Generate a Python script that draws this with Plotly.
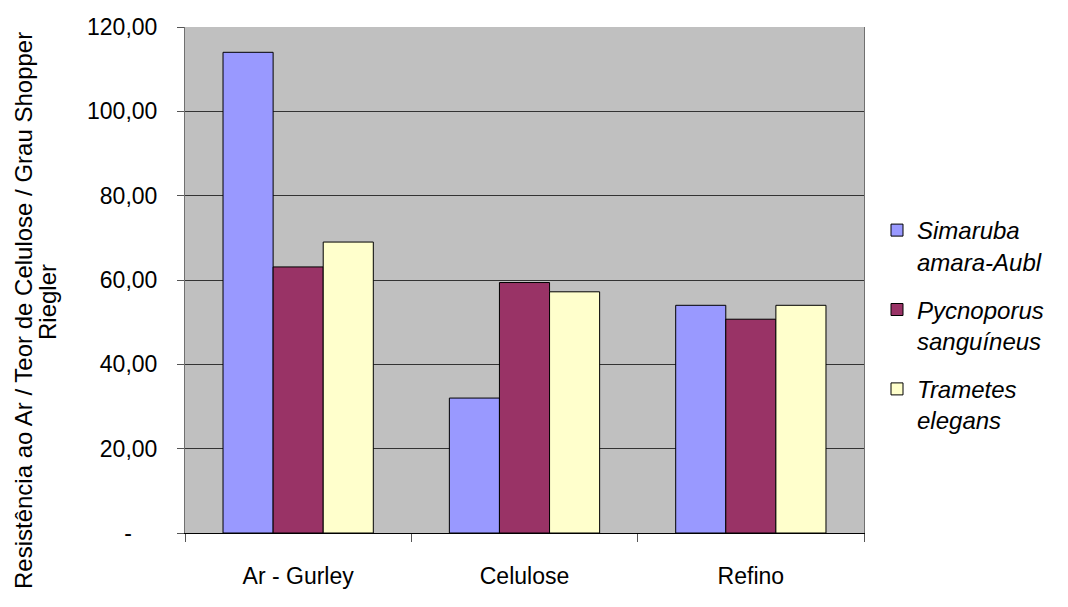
import plotly.graph_objects as go

# Data
categories = ["Ar - Gurley", "Celulose", "Refino"]
simaruba = [114.0, 32.0, 54.0]
pycnoporus = [63.1, 59.4, 50.7]
trametes = [69.0, 57.2, 54.0]

series_names = ["Simaruba<br>amara-Aubl", "Pycnoporus<br>sanguíneus", "Trametes<br>elegans"]
series_values = [simaruba, pycnoporus, trametes]
series_colors = ["#9999FF", "#993366", "#FFFFCC"]

y_ticks = [0, 20, 40, 60, 80, 100, 120]
y_ticktext = ["-\u00a0\u00a0\u00a0\u00a0", "20,00", "40,00", "60,00", "80,00", "100,00", "120,00"]

y_title_lines = ["Resistência ao Ar / Teor de Celulose / Grau Shopper", "Riegler"]

FONT = "Liberation Sans, Arial, sans-serif"

# plot area in pixels
L, R, T, B = 185, 864, 27, 533
W, H = 1068, 607


def px_x(p):
    return (p - L) / (R - L)


def px_y(p):
    return (B - p) / (B - T)


fig = go.Figure()
for name, vals, color in zip(series_names, series_values, series_colors):
    fig.add_trace(go.Bar(
        x=categories, y=vals, name=name, legendgroup=name,
        marker=dict(color=color, line=dict(color="#000000", width=1)),
    ))

fig.update_layout(
    width=W, height=H,
    margin=dict(l=L, r=W - R, t=T, b=H - B),
    paper_bgcolor="#FFFFFF",
    plot_bgcolor="#C0C0C0",
    barmode="group",
    bargap=0.336,
    bargroupgap=0,
    font=dict(family=FONT, color="#000000", size=22),
    showlegend=True,
    legend=dict(
        xref="container", yref="container",
        x=877 / W, y=1 - 208 / H,
        xanchor="left", yanchor="top",
        font=dict(family=FONT, size=24, style="italic"),
        valign="top",
        tracegroupgap=14,
        bgcolor="rgba(0,0,0,0)",
    ),
    annotations=[
        dict(text=y_title_lines[0], textangle=-90, xref="paper", yref="paper",
             x=px_x(23), y=px_y(311), xanchor="center", yanchor="middle",
             showarrow=False, font=dict(family=FONT, size=24)),
        dict(text=y_title_lines[1], textangle=-90, xref="paper", yref="paper",
             x=px_x(47), y=px_y(302), xanchor="center", yanchor="middle",
             showarrow=False, font=dict(family=FONT, size=24)),
    ],
)

fig.update_xaxes(
    type="category",
    showline=True, linecolor="#000000", linewidth=1,
    ticks="outside", tickson="boundaries", ticklen=8, tickcolor="#555555",
    ticklabelstandoff=22,
    tickfont=dict(size=23),
    showgrid=False,
)
fig.update_yaxes(
    range=[0, 120],
    tickvals=y_ticks, ticktext=y_ticktext,
    showline=True, linecolor="#707070", linewidth=1, mirror=True,
    ticks="outside", ticklen=7, tickcolor="#555555",
    ticklabelstandoff=15,
    tickfont=dict(size=23),
    showgrid=True, gridcolor="#333333", gridwidth=1,
    zeroline=False,
)

fig.write_html("out.html")
